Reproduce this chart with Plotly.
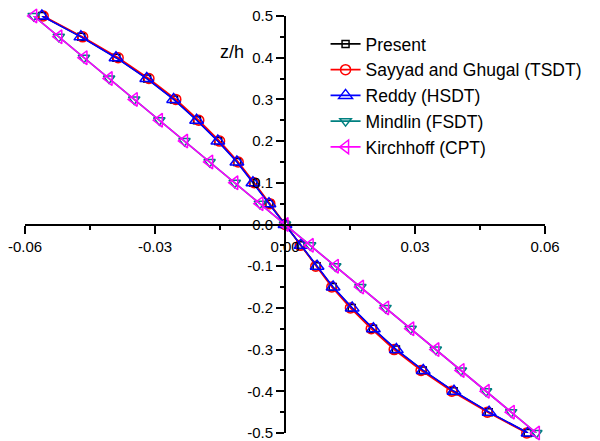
import plotly.graph_objects as go

z_h = [0.5, 0.45, 0.4, 0.35, 0.3, 0.25, 0.2, 0.15, 0.1, 0.05, 0.0,
       -0.05, -0.1, -0.15, -0.2, -0.25, -0.3, -0.35, -0.4, -0.45, -0.5]

present = [-0.0560, -0.0470, -0.0389, -0.0318, -0.0256, -0.0203, -0.0154, -0.0110, -0.0073, -0.0036, 0.0,
           0.0036, 0.0073, 0.0110, 0.0154, 0.0203, 0.0256, 0.0318, 0.0389, 0.0470, 0.0560]
tsdt = [-0.0558, -0.0467, -0.0385, -0.0314, -0.0252, -0.0199, -0.0151, -0.0108, -0.0071, -0.0035, 0.0,
        0.0035, 0.0071, 0.0108, 0.0151, 0.0199, 0.0252, 0.0314, 0.0385, 0.0467, 0.0558]
hsdt = [-0.0561, -0.0471, -0.0390, -0.0319, -0.0257, -0.0204, -0.0155, -0.0111, -0.0074, -0.0037, 0.0,
        0.0037, 0.0074, 0.0111, 0.0155, 0.0204, 0.0257, 0.0319, 0.0390, 0.0471, 0.0561]
fsdt = [-0.0580, -0.0522, -0.0464, -0.0406, -0.0348, -0.0290, -0.0232, -0.0174, -0.0116, -0.0058, 0.0,
        0.0058, 0.0116, 0.0174, 0.0232, 0.0290, 0.0348, 0.0406, 0.0464, 0.0522, 0.0580]
cpt = [-0.0580, -0.0522, -0.0464, -0.0406, -0.0348, -0.0290, -0.0232, -0.0174, -0.0116, -0.0058, 0.0,
       0.0058, 0.0116, 0.0174, 0.0232, 0.0290, 0.0348, 0.0406, 0.0464, 0.0522, 0.0580]

x_tickvals = [-0.06, -0.03, 0.0, 0.03, 0.06]
x_ticktext = ["-0.06", "-0.03", "0.00", "0.03", "0.06"]
y_tickvals = [0.5, 0.4, 0.3, 0.2, 0.1, 0.0, -0.1, -0.2, -0.3, -0.4, -0.5]
y_ticktext = ["0.5", "0.4", "0.3", "0.2", "0.1", "0.0", "-0.1", "-0.2", "-0.3", "-0.4", "-0.5"]

series = [
    ("Present", present, "black", "square-open", 7),
    ("Sayyad and Ghugal (TSDT)", tsdt, "#ff0000", "circle-open", 10),
    ("Reddy (HSDT)", hsdt, "#0000ff", "triangle-up-open", 12),
    ("Mindlin (FSDT)", fsdt, "#008080", "triangle-down-open", 10),
    ("Kirchhoff (CPT)", cpt, "#ff00ff", "triangle-left-open", 12),
]

fig = go.Figure()
for name, xs, color, sym, size in series:
    fig.add_trace(go.Scatter(
        x=xs, y=z_h, name=name, mode="lines+markers",
        line=dict(color=color, width=1.6),
        marker=dict(symbol=sym, size=size, color=color, line=dict(width=1.5, color=color)),
        cliponaxis=False,
    ))

font_family = "Liberation Sans, Arial, sans-serif"
fig.update_layout(
    width=592, height=433,
    margin=dict(l=17, r=55, t=8, b=8, autoexpand=False),
    paper_bgcolor="white", plot_bgcolor="white",
    font=dict(family=font_family, color="black", size=14),
    showlegend=True,
    legend=dict(x=0.578, y=0.976, xanchor="left", yanchor="top",
                bgcolor="rgba(0,0,0,0)", font=dict(size=17.5, family=font_family, color="black"),
                tracegroupgap=0, itemsizing="trace"),
    xaxis=dict(range=[-0.06, 0.06], anchor="free", position=0.5, automargin=False,
               showgrid=False, zeroline=False, showline=True, linecolor="black", linewidth=2,
               tickmode="array", tickvals=x_tickvals, ticktext=x_ticktext,
               ticks="outside", ticklen=8, tickwidth=2, tickcolor="black",
               ticklabeloverflow="allow",
               tickfont=dict(size=15, family=font_family, color="black"),
               minor=dict(dtick=0.015, tick0=0, ticks="outside", ticklen=4, tickwidth=2, tickcolor="black")),
    yaxis=dict(range=[-0.5, 0.5], anchor="free", position=0.5, side="left", automargin=False,
               showgrid=False, zeroline=False, showline=True, linecolor="black", linewidth=2,
               tickmode="array", tickvals=y_tickvals, ticktext=y_ticktext,
               ticks="outside", ticklen=8, tickwidth=2, tickcolor="black",
               ticklabeloverflow="allow",
               tickfont=dict(size=15, family=font_family, color="black"),
               minor=dict(dtick=0.05, tick0=0, ticks="outside", ticklen=4, tickwidth=2, tickcolor="black")),
    annotations=[dict(text="z/h", x=0.398, y=0.913, xref="paper", yref="paper",
                      xanchor="center", yanchor="middle",
                      showarrow=False, font=dict(size=18, family=font_family, color="black"))],
)

fig.write_html("out.html")
